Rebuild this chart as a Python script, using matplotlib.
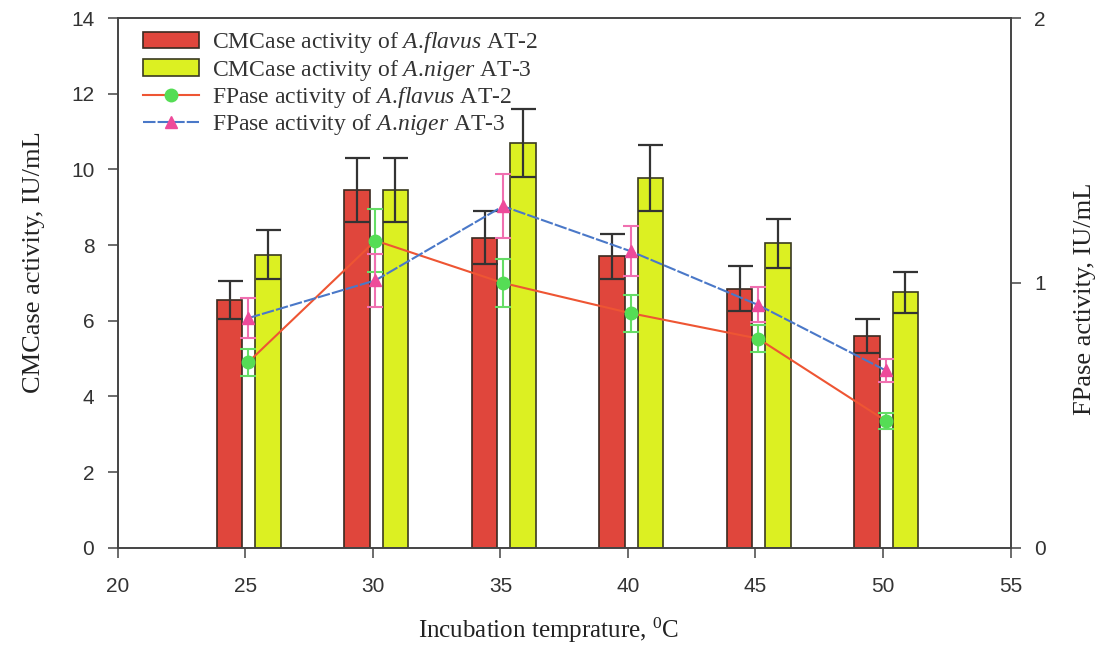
import numpy as np
import matplotlib
matplotlib.use("Agg")
import matplotlib.pyplot as plt

temps = [25, 30, 35, 40, 45, 50]

cmc_flavus = [6.55, 9.45, 8.2, 7.7, 6.85, 5.6]
cmc_flavus_err = [0.5, 0.85, 0.7, 0.6, 0.6, 0.45]
cmc_niger = [7.75, 9.45, 10.7, 9.77, 8.05, 6.75]
cmc_niger_err = [0.65, 0.85, 0.9, 0.88, 0.65, 0.55]

fp_flavus = [0.70, 1.16, 1.00, 0.886, 0.79, 0.48]
fp_flavus_err = [0.05, 0.12, 0.09, 0.07, 0.05, 0.03]
fp_niger = [0.867, 1.01, 1.29, 1.12, 0.917, 0.67]
fp_niger_err = [0.075, 0.10, 0.12, 0.095, 0.066, 0.043]

plt.rcParams["mathtext.fontset"] = "custom"
plt.rcParams["mathtext.rm"] = "Liberation Serif"
plt.rcParams["mathtext.it"] = "Liberation Serif:italic"

fig = plt.figure(figsize=(11.02, 6.49), dpi=100)
ax = fig.add_axes([0.107, 0.156, 0.810, 0.816])
ax2 = ax.twinx()

x = np.array(temps)
ek = dict(ecolor="#333333", elinewidth=1.6, capsize=9, capthick=1.6)
b1 = ax.bar(x - 0.62, cmc_flavus, width=1.0, color="#e0463c", edgecolor="#3a2a20",
            linewidth=1.2, yerr=cmc_flavus_err, error_kw=ek, zorder=2)
b2 = ax.bar(x + 0.88, cmc_niger, width=1.0, color="#dcf022", edgecolor="#3a3a20",
            linewidth=1.2, yerr=cmc_niger_err, error_kw=ek, zorder=2)

xm = x + 0.1
l1 = ax2.errorbar(xm, fp_flavus, yerr=fp_flavus_err, color="#ee5533", lw=1.5,
                  marker="o", ms=9, mfc="#55dd55", mec="#55dd55",
                  ecolor="#66dd66", elinewidth=1.5, capsize=6, capthick=1.5)
l2 = ax2.errorbar(xm, fp_niger, yerr=fp_niger_err, color="#4a78c8", lw=1.5, ls="--",
                  dashes=(6, 1), marker="^", ms=9, mfc="#ee4a9a", mec="#ee4a9a",
                  ecolor="#f070b0", elinewidth=1.5, capsize=6, capthick=1.5)

ax.set_xlim(20, 55)
ax.set_ylim(0, 14)
ax2.set_ylim(0, 2)
ax.set_xticks(range(20, 56, 5))
ax.set_yticks(range(0, 15, 2))
ax2.set_yticks([0, 1, 2])

for a in (ax, ax2):
    for s in a.spines.values():
        s.set_color("#444444")
        s.set_linewidth(1.2)
    a.tick_params(direction="out", length=7, width=1.1, color="#444444",
                  labelsize=15, labelcolor="#333333", pad=10)
    for t in a.get_xticklabels() + a.get_yticklabels():
        t.set_fontfamily("Liberation Sans")
ax.tick_params(axis="x", pad=14)

ax.set_xlabel(r"Incubation temprature, $^{\mathrm{0}}$C", fontsize=18,
              family="Liberation Serif", color="#222222")
ax.xaxis.set_label_coords(0.482, -0.128)
ax.set_ylabel("CMCase activity, IU/mL", fontsize=19, family="Liberation Serif",
              color="#222222")
ax.yaxis.set_label_coords(-0.082, 0.54)
ax2.set_ylabel("FPase activity, IU/mL", fontsize=19, family="Liberation Serif",
               color="#222222")
ax2.yaxis.set_label_coords(1.071, 0.47)

labels = [r"CMCase activity of $\mathit{A.\!flavus}$ AT-2",
          r"CMCase activity of $\mathit{A.\!niger}$ AT-3",
          r"FPase activity of $\mathit{A.\!flavus}$ AT-2",
          r"FPase activity of $\mathit{A.\!niger}$ AT-3"]
leg = ax2.legend([b1, b2, l1[0], l2[0]], labels, loc="upper left",
                 bbox_to_anchor=(0.017, 0.995), frameon=False, handlelength=2.4,
                 handletextpad=0.55, labelspacing=0.1, borderaxespad=0,
                 prop={"family": "Liberation Serif", "size": 17})
for t in leg.get_texts():
    t.set_color("#333333")

plt.savefig("out.png", dpi=100)
